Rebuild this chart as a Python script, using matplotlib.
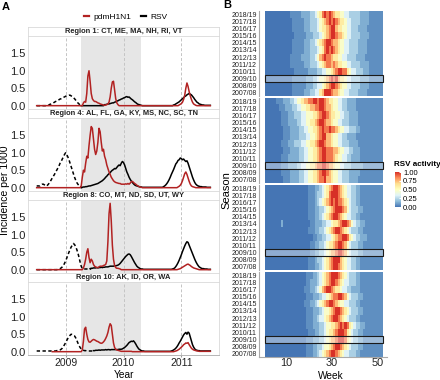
import numpy as np
import matplotlib
matplotlib.use("Agg")
import matplotlib.pyplot as plt
from matplotlib.colors import LinearSegmentedColormap
from matplotlib.patches import Rectangle
from matplotlib.lines import Line2D

plt.rcParams['font.family'] = ['Liberation Sans', 'DejaVu Sans']

nan = np.nan

# ---- panel A : weekly incidence per 1000, first week = mid 2008 ----
start_year = 2008.5
regions = ["Region 1: CT, ME, MA, NH, RI, VT",
           "Region 4: AL, FL, GA, KY, MS, NC, SC, TN",
           "Region 8: CO, MT, ND, SD, UT, WY",
           "Region 10: AK, ID, OR, WA"]
pandemic_period = (2009.27, 2010.31)
year_ticks = [2009, 2010, 2011]

# region 1
r1_rsv_prev = [0.0]*11 + [0.02, 0.04, 0.05, 0.07, 0.08, 0.1, 0.12, 0.13, 0.15, 0.17, 0.19, 0.2, 0.22, 0.24, 0.25,
                          0.27, 0.28, 0.29, 0.3, 0.3, 0.28, 0.26, 0.23, 0.2, 0.16, 0.12, 0.08, 0.05, 0.02, 0.0] + [nan]*116
r1_rsv = [nan]*40 + [0.0]*21 + [0.03, 0.03, 0.04, 0.05, 0.05, 0.06, 0.07, 0.08, 0.08, 0.1, 0.11, 0.13, 0.14, 0.16, 0.17,
                                 0.19, 0.2, 0.22, 0.23, 0.25, 0.26, 0.24, 0.25, 0.22, 0.19, 0.17, 0.14, 0.11, 0.09, 0.06,
                                 0.04, 0.03, 0.02, 0.01] + [0.0]*28 + \
         [0.02, 0.03, 0.05, 0.07, 0.09, 0.11, 0.14, 0.17, 0.2, 0.23, 0.26, 0.28, 0.31, 0.33, 0.35, 0.33, 0.31, 0.27,
          0.23, 0.18, 0.14, 0.1, 0.08, 0.05, 0.04, 0.03, 0.02, 0.02, 0.01] + [0.01]*5
r1_flu = [0.0]*42 + [0.08, 0.12, 0.1, 0.35, 0.85, 1.0, 0.7, 0.35, 0.2, 0.15, 0.12, 0.12, 0.1, 0.08, 0.07, 0.05, 0.04,
                     0.03, 0.02, 0.01] + \
         [0.02, 0.03, 0.05, 0.1, 0.25, 0.5, 0.68, 0.7, 0.45, 0.2, 0.08, 0.03] + [0.0]*54 + \
         [0.02, 0.04, 0.06, 0.1, 0.18, 0.3, 0.5, 0.65, 0.55, 0.4, 0.28, 0.18, 0.1, 0.05, 0.03, 0.01] + [0.0]*13

# region 4
r4_rsv_prev = [0.05, 0.05, 0.05, 0.05, 0.08, 0.1, 0.1, 0.08, 0.05, 0.05, 0.08, 0.12, 0.17, 0.22, 0.28, 0.33, 0.38,
               0.45, 0.5, 0.56, 0.62, 0.7, 0.75, 0.82, 0.88, 0.95, 1.0, 0.95, 0.88, 0.8, 0.7, 0.6, 0.5, 0.4, 0.3,
               0.22, 0.15, 0.1, 0.06, 0.03, 0.01, 0.0] + [nan]*115
r4_rsv = [nan]*40 + [0.0, 0.01, 0.02, 0.02, 0.03, 0.03, 0.04, 0.05, 0.05, 0.06, 0.07, 0.08, 0.09, 0.1, 0.11, 0.12] + \
         [0.14, 0.16, 0.18, 0.2, 0.23, 0.26, 0.3, 0.33, 0.37, 0.4, 0.43, 0.47, 0.5, 0.52, 0.55, 0.54, 0.58, 0.62,
          0.65, 0.63, 0.7, 0.75] + \
         [0.72, 0.65, 0.55, 0.45, 0.38, 0.3, 0.24, 0.19, 0.15, 0.11, 0.08, 0.06, 0.05, 0.04, 0.03, 0.02, 0.02, 0.01,
          0.01, 0.01] + [0.01]*16 + \
         [0.03, 0.05, 0.08, 0.12, 0.17, 0.23, 0.3, 0.38, 0.45, 0.52, 0.6, 0.68, 0.72, 0.78, 0.8, 0.85, 0.83, 0.8, 0.82,
          0.78, 0.75, 0.77, 0.7, 0.6, 0.5, 0.4, 0.3, 0.22, 0.15, 0.1, 0.07, 0.05] + \
         [0.04, 0.03, 0.03, 0.02, 0.02, 0.02, 0.02, 0.01, 0.01, 0.01, 0.01]
r4_flu = [0.0]*40 + [0.05, 0.3, 0.5, 0.45, 0.7, 0.9, 0.85, 1.2, 1.5, 1.75, 1.7, 1.4, 1.1, 0.95, 1.05, 1.3, 1.7, 1.6] + \
         [1.3, 1.05, 1.1, 0.9, 0.8, 0.65, 0.55, 0.45, 0.38, 0.3, 0.25, 0.2, 0.17, 0.15, 0.14, 0.13, 0.12, 0.12, 0.1,
          0.1] + \
         [0.1, 0.1, 0.11, 0.1, 0.12, 0.1, 0.13, 0.17, 0.18, 0.15, 0.12, 0.1, 0.07, 0.05, 0.03, 0.02, 0.01] + \
         [0.0]*32 + [0.02, 0.04, 0.07, 0.12, 0.2, 0.3, 0.4, 0.45, 0.38, 0.28, 0.18, 0.1, 0.05, 0.03, 0.02, 0.01] + \
         [0.0]*14

# region 8
r8_rsv_prev = [0.0]*19 + [0.01, 0.02, 0.03, 0.05, 0.08, 0.12, 0.18, 0.25, 0.33, 0.42, 0.5, 0.58, 0.65, 0.7, 0.75,
                          0.72, 0.66, 0.58, 0.48, 0.36, 0.22, 0.1, 0.03] + [0.02]*8 + [nan]*107
r8_rsv = [nan]*48 + [0.03, 0.04, 0.04, 0.05, 0.05, 0.05, 0.06, 0.05, 0.06, 0.06, 0.07, 0.06, 0.07, 0.07, 0.08, 0.08,
                     0.08, 0.09, 0.1] + \
         [0.1, 0.1, 0.1, 0.11, 0.11, 0.12, 0.13, 0.15, 0.18, 0.22, 0.26, 0.3, 0.34, 0.38, 0.41, 0.44, 0.45, 0.43,
          0.38, 0.32, 0.26, 0.2, 0.15, 0.1, 0.07, 0.05, 0.03, 0.02, 0.02] + [0.01]*26 + \
         [0.02, 0.03, 0.05, 0.09, 0.14, 0.2, 0.27, 0.35, 0.43, 0.52, 0.6, 0.68, 0.75, 0.8, 0.78, 0.7, 0.62, 0.54, 0.46,
          0.38, 0.3, 0.23, 0.17, 0.12, 0.08, 0.06, 0.04] + [0.03, 0.03, 0.02, 0.02, 0.02, 0.01, 0.01, 0.01]
r8_flu = [0.0]*42 + [0.05, 0.15, 0.3, 0.5, 0.6, 0.35, 0.2, 0.3, 0.25, 0.15, 0.1, 0.08, 0.06, 0.06, 0.08, 0.1] + \
         [0.1, 0.1, 0.12, 0.13, 0.15, 0.25, 0.8, 1.6, 1.9, 1.4, 0.7, 0.3, 0.12, 0.06, 0.04] + [0.04, 0.03, 0.02] + \
         [0.0]*51 + [0.01, 0.02, 0.03, 0.05, 0.07, 0.09, 0.11, 0.13, 0.15, 0.16, 0.14, 0.12, 0.09, 0.07, 0.05, 0.04,
                     0.03, 0.02, 0.01] + [0.0]*11

# region 10
r10_rsv_prev = [0.02]*17 + [0.02, 0.03, 0.03, 0.04, 0.05, 0.07, 0.1, 0.15, 0.2, 0.26, 0.32, 0.38, 0.43, 0.47, 0.5,
                            0.49, 0.46, 0.45, 0.4, 0.33, 0.25, 0.18, 0.12, 0.08, 0.05, 0.04, 0.03, 0.03, 0.02, 0.02,
                            0.02, 0.02, 0.02, 0.02] + [nan]*106
r10_rsv = [nan]*51 + [0.03, 0.03, 0.04, 0.04, 0.04, 0.05, 0.04, 0.05, 0.05, 0.05, 0.05, 0.06, 0.05, 0.06, 0.06,
                      0.05, 0.06, 0.06, 0.06, 0.06, 0.06, 0.06, 0.06, 0.07, 0.07] + \
          [0.07, 0.08, 0.1, 0.12, 0.15, 0.18, 0.22, 0.26, 0.28, 0.3, 0.29, 0.31, 0.27, 0.22, 0.16, 0.11, 0.07, 0.05,
           0.03, 0.02, 0.02] + [0.01]*24 + \
          [0.02, 0.03, 0.05, 0.07, 0.1, 0.14, 0.19, 0.25, 0.3, 0.36, 0.42, 0.48, 0.52, 0.55, 0.5, 0.56, 0.53, 0.42,
           0.3, 0.2, 0.13, 0.08, 0.05, 0.04, 0.03, 0.03] + [0.02]*10
r10_flu = [nan]*14 + [0.0]*27 + [0.05, 0.3, 0.65, 0.7, 0.5, 0.35, 0.28, 0.27, 0.3, 0.33, 0.35, 0.34, 0.32, 0.3,
                                 0.29, 0.27] + \
          [0.25, 0.24, 0.25, 0.28, 0.32, 0.38, 0.45, 0.55, 0.7, 0.8, 0.75, 0.5, 0.25, 0.12, 0.07, 0.05, 0.04, 0.03,
           0.02] + [0.01]*10 + [0.0]*38 + \
          [0.01, 0.02, 0.03, 0.05, 0.07, 0.1, 0.13, 0.16, 0.2, 0.22, 0.25, 0.24, 0.26, 0.2, 0.15, 0.1, 0.07, 0.05,
           0.04, 0.03, 0.02, 0.02] + [0.01]*11

rsv_prev_series = [r1_rsv_prev, r4_rsv_prev, r8_rsv_prev, r10_rsv_prev]
rsv_series = [r1_rsv, r4_rsv, r8_rsv, r10_rsv]
flu_series = [r1_flu, r4_flu, r8_flu, r10_flu]

# ---- panel B : RSV activity per season week, coded 0..9 ----
seasons = ["2007/08", "2008/09", "2009/10", "2010/11", "2011/12", "2012/13",
           "2013/14", "2014/15", "2015/16", "2016/17", "2017/18", "2018/19"]
highlight_season = "2009/10"
week_ticks = [10, 30, 50]
level_activity = [0.0, 0.06, 0.13, 0.22, 0.33, 0.47, 0.6, 0.74, 0.87, 1.0]

heat_r1 = ["0000000000001 1111222334467 9998776554433 3322221111111",
           "0000000000001 1111122233445 6789987655443 3332222111111",
           "0000000000001 1111122233455 6789897665443 3332222111111",
           "0000000000000 1111112222334 4556789988654 4333222111111",
           "0000000000011 1111222333456 7887876655443 3332222111111",
           "0000000000011 1112222334578 9887665544333 3222211111111",
           "0000000000001 1111222333456 8989876554433 3322221111111",
           "0000000000001 1111222334567 8998776554433 3322221111111",
           "0000000000000 1111122233345 6789987765443 3332222111111",
           "0000000000001 1111222333456 6789976655443 3322221111111",
           "0000000000001 1111222333456 7898987665443 3332222111111",
           "0000000000011 1112222334568 9898766554433 3332222111111"]
heat_r4 = ["0000000011122 2233445566788 9776554433322 2211111111111",
           "0000000111122 2233445566789 9876554433322 2221111111111",
           "0000000111222 2334455667889 9877655443332 2222111111111",
           "0000000111222 2233445566789 9888765544332 2221111111111",
           "0000000011122 2233445566789 9888776554433 2221111111111",
           "0000000111222 3334455667899 8776554433322 2211111111111",
           "0000000011122 2233344556789 9776554433222 2111111111111",
           "0000000011122 2233445566789 8898876554433 3221111111111",
           "0000000111222 2334455667899 8776554433322 2211111111111",
           "0000000111222 3334455566789 9876655443322 2211111111111",
           "0000001112223 3445566778899 8776554433222 2111111111111",
           "0000011122233 4556778899899 8766554433222 2111111111111"]
heat_r8 = ["0000000000000 0000001112234 5678998765443 3221111111111",
           "0000000000000 0000001112334 5678999765443 3221111111111",
           "0000000000000 0000000112233 4567789987543 3322111111111",
           "0000000000000 0000000112233 4566789987543 3322111111111",
           "0000000000000 0000000011223 3445678899865 4332221111111",
           "0000000000000 0000001112233 4567899876543 3322111111111",
           "0000000200000 0000000112223 3445667899875 4332211111111",
           "0000000000000 0000001112234 5678998765443 3221111111111",
           "0000000000000 0000001112233 4567899987543 3322111111111",
           "0000000000000 0000001112345 6789898876543 3221111111111",
           "0000000000000 0000001112334 5689998765443 3221111111111",
           "0000000000000 0000001112234 5678998765443 3221111111111"]
heat_r10 = ["0000000000000 0000011122345 6789987654433 3221111111111",
            "0000000000000 0000011122334 5567899876543 3322111111111",
            "0000000000000 0000011122233 4567789998654 3322111111111",
            "0000000000000 0000001112233 4566789998654 3322111111111",
            "0000000000000 0000011122233 4556678989865 4332211111111",
            "0000000000000 0000011122344 5678998765433 3221111111111",
            "0000000000000 0000011122234 5567899876543 3322111111111",
            "0000000000000 0000111223456 7899876554433 3221111111111",
            "0000000000000 0000011122234 4567889987543 3322111111111",
            "0000000000000 0000111223457 8998766544332 2221111111111",
            "0000000000000 0000011222345 6789987654433 3221111111111",
            "0000000000000 0000011122345 6789998765433 3221111111111"]
heat_regions = [heat_r1, heat_r4, heat_r8, heat_r10]

red = "#b22222"
W, H = 440, 380


def px_axes(fig, x0, y0, x1, y1):
    # box in pixels, origin top left
    return fig.add_axes([x0 / W, 1 - y1 / H, (x1 - x0) / W, (y1 - y0) / H])


def to_activity(rows):
    lut = np.array(level_activity)
    lv = np.array([[int(c) for c in (r.replace(" ", "") + "0" * 52)[:52]] for r in rows])
    return lut[lv]


fig = plt.figure(figsize=(W / 100, H / 100), dpi=100)
border = "#d9d9d9"

# ---------- A ----------
for k in range(4):
    top = 27 + 82 * k
    st = px_axes(fig, 28, top, 219, top + 9)
    st.set_xticks([])
    st.set_yticks([])
    for s in st.spines.values():
        s.set_color(border)
        s.set_linewidth(0.6)
    st.text(0.5, 0.45, regions[k], transform=st.transAxes, ha="center", va="center",
            fontsize=5.4, fontweight="bold", color="#222222")

    ax = px_axes(fig, 28, top + 9, 219, top + 82)
    ax.axvspan(*pandemic_period, color="#e6e6e6", lw=0, zorder=0)
    for yr in year_ticks:
        ax.axvline(yr, color="#c4c4c4", lw=0.7, ls=(0, (3, 2)), zorder=1)
    prev = np.array(rsv_prev_series[k], dtype=float)
    rsv = np.array(rsv_series[k], dtype=float)
    flu = np.array(flu_series[k], dtype=float)
    ax.plot(start_year + np.arange(len(prev)) / 52, prev, color="black", lw=1.1, ls=(0, (2.2, 1.6)), zorder=2)
    ax.plot(start_year + np.arange(len(rsv)) / 52, rsv, color="black", lw=1.1, zorder=3)
    ax.plot(start_year + np.arange(len(flu)) / 52, flu, color=red, lw=1.1, zorder=4)
    ax.set_xlim(2008.35, 2011.65)
    ax.set_ylim(-0.095, 1.995)
    ax.set_yticks([0, 0.5, 1.0, 1.5])
    ax.set_yticklabels(["0.0", "0.5", "1.0", "1.5"])
    ax.tick_params(axis="y", length=0, labelsize=8, pad=1.5, labelcolor="#222222")
    ax.set_xticks(year_ticks)
    if k == 3:
        ax.set_xticklabels([str(y) for y in year_ticks])
        ax.tick_params(axis="x", length=1.5, color="#999999", labelsize=7.5, pad=0.5, labelcolor="#222222")
    else:
        ax.tick_params(axis="x", length=0, labelbottom=False)
    for s in ax.spines.values():
        s.set_color(border)
        s.set_linewidth(0.6)
    if k == 3:
        ax.spines["bottom"].set_color("#aaaaaa")

handles = [Line2D([], [], color=red, lw=1.6), Line2D([], [], color="black", lw=1.6)]
fig.legend(handles, ["pdmH1N1", "RSV"], loc="center", bbox_to_anchor=(126 / W, 1 - 17 / H), ncol=2,
           frameon=False, fontsize=6, handlelength=0.6, handletextpad=0.5, columnspacing=1.2)
fig.text(5 / W, 1 - 190 / H, "Incidence per 1000", rotation=90, ha="center", va="center", fontsize=7.6)
fig.text(124 / W, 1 - 378.5 / H, "Year", ha="center", va="baseline", fontsize=7.3)
fig.text(2 / W, 1 - 7 / H, "A", ha="left", va="center", fontsize=8, fontweight="bold")

# ---------- B ----------
cmap = LinearSegmentedColormap.from_list(
    "rdylbu7", ["#4575b4", "#91bfdb", "#e0f3f8", "#ffffbf", "#fee090", "#fc8d59", "#d73027"])
tops = [11, 98, 185, 272]
hi = seasons.index(highlight_season) + 1
for k in range(4):
    ax = px_axes(fig, 259, tops[k], 387, tops[k] + 85)
    im = ax.imshow(to_activity(heat_regions[k]), cmap=cmap, vmin=0, vmax=1, aspect="auto", origin="lower",
                   extent=(0.5, 52.5, 0.5, len(seasons) + 0.5), interpolation="nearest")
    ax.add_patch(Rectangle((0.5, hi - 0.5), 52, 1, facecolor=(1, 1, 1, 0.4), edgecolor="#1a1a1a", lw=0.8))
    ax.set_xlim(-2.2, 54.3)
    ax.set_ylim(0.5, len(seasons) + 0.5)
    ax.set_yticks(np.arange(1, len(seasons) + 1))
    ax.set_yticklabels(seasons)
    ax.tick_params(axis="y", length=0, labelsize=5, pad=1.5, labelcolor="#222222")
    ax.set_xticks(week_ticks)
    for s in ["top", "right"]:
        ax.spines[s].set_visible(False)
    ax.spines["left"].set_color("#aaaaaa")
    ax.spines["left"].set_linewidth(0.8)
    if k == 3:
        ax.spines["bottom"].set_color("#aaaaaa")
        ax.spines["bottom"].set_linewidth(0.8)
        ax.tick_params(axis="x", length=1, color="#999999", labelsize=7.8, pad=0, labelcolor="#222222")
    else:
        ax.spines["bottom"].set_visible(False)
        ax.tick_params(axis="x", length=0, labelbottom=False)

cax = px_axes(fig, 395, 172, 401, 207)
cb = fig.colorbar(im, cax=cax, ticks=[0, 0.25, 0.5, 0.75, 1.0])
cb.ax.set_yticklabels(["0.00", "0.25", "0.50", "0.75", "1.00"])
cb.outline.set_visible(False)
cb.ax.tick_params(length=1.5, color="white", direction="in", labelsize=5.5, pad=1.5)
fig.text(394 / W, 1 - 165 / H, "RSV activity", ha="left", va="center", fontsize=5.8, fontweight="bold")
fig.text(226 / W, 1 - 190 / H, "Season", rotation=90, ha="center", va="center", fontsize=8)
fig.text(331 / W, 1 - 379 / H, "Week", ha="center", va="baseline", fontsize=7.3)
fig.text(223 / W, 1 - 5 / H, "B", ha="left", va="center", fontsize=8, fontweight="bold")

fig.savefig("out.png", dpi=100)
